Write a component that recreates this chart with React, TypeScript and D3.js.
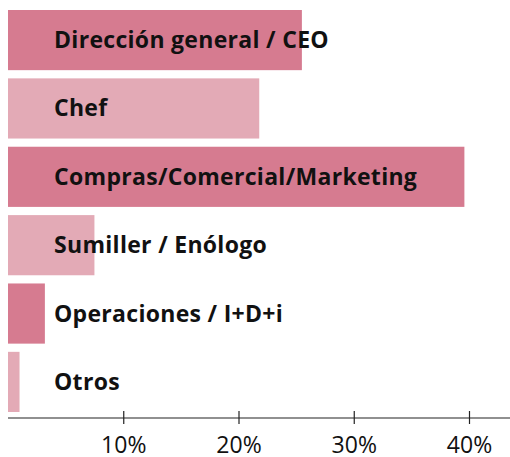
import React, { useRef, useEffect } from "react";
import * as d3 from "d3";

const categories = [
  "Dirección general / CEO",
  "Chef",
  "Compras/Comercial/Marketing",
  "Sumiller / Enólogo",
  "Operaciones / I+D+i",
  "Otros",
];
const values = [25.5, 21.8, 39.6, 7.5, 3.2, 1.0];
const tickValues = [10, 20, 30, 40];

const WIDTH = 510;
const HEIGHT = 457;

export default function App() {
  const svgRef = useRef<SVGSVGElement>(null);

  useEffect(() => {
    const svg = d3.select(svgRef.current);
    svg.selectAll("*").remove();

    const x = d3.scaleLinear().domain([0, 40]).range([8, 469]);
    const y = d3
      .scaleBand<string>()
      .domain(categories)
      .range([10, 412])
      .paddingInner(0.12)
      .paddingOuter(0);

    const rows = categories.map((c, i) => ({ c, v: values[i], i }));

    // Bars
    svg
      .selectAll("rect.bar")
      .data(rows)
      .join("rect")
      .attr("class", "bar")
      .attr("x", x(0))
      .attr("y", (d) => y(d.c)!)
      .attr("width", (d) => x(d.v) - x(0))
      .attr("height", y.bandwidth())
      .attr("fill", (d) => (d.i % 2 === 0 ? "#d67b90" : "#e3aab6"));

    // Category labels
    svg
      .selectAll("text.label")
      .data(rows)
      .join("text")
      .attr("class", "label")
      .attr("x", 54)
      .attr("y", (d) => y(d.c)! + y.bandwidth() / 2)
      .attr("dy", "0.35em")
      .attr("font-family", "'Open Sans', sans-serif")
      .attr("font-weight", 700)
      .attr("font-size", 23)
      .attr("letter-spacing", 0.3)
      .attr("fill", "#111")
      .text((d) => d.c);

    // Axis
    const axis = svg
      .append("g")
      .attr("transform", "translate(0,418)")
      .call(
        d3
          .axisBottom(x)
          .tickValues(tickValues)
          .tickFormat((d) => `${d}%`)
          .tickSize(0)
      );
    axis.select(".domain").remove();
    axis
      .append("line")
      .attr("x1", x(0))
      .attr("x2", WIDTH)
      .attr("stroke", "#222")
      .attr("stroke-width", 1.2);
    axis
      .selectAll(".tick")
      .append("line")
      .attr("y1", -7)
      .attr("y2", 6)
      .attr("stroke", "#222")
      .attr("stroke-width", 1.2);
    axis
      .selectAll(".tick text")
      .attr("y", 35)
      .attr("dy", null)
      .attr("font-family", "'Open Sans', sans-serif")
      .attr("font-size", 23)
      .attr("fill", "#111");
  }, []);

  return (
    <svg
      ref={svgRef}
      width={WIDTH}
      height={HEIGHT}
      style={{ position: "absolute", left: 0, top: 0, background: "#fff" }}
    />
  );
}
